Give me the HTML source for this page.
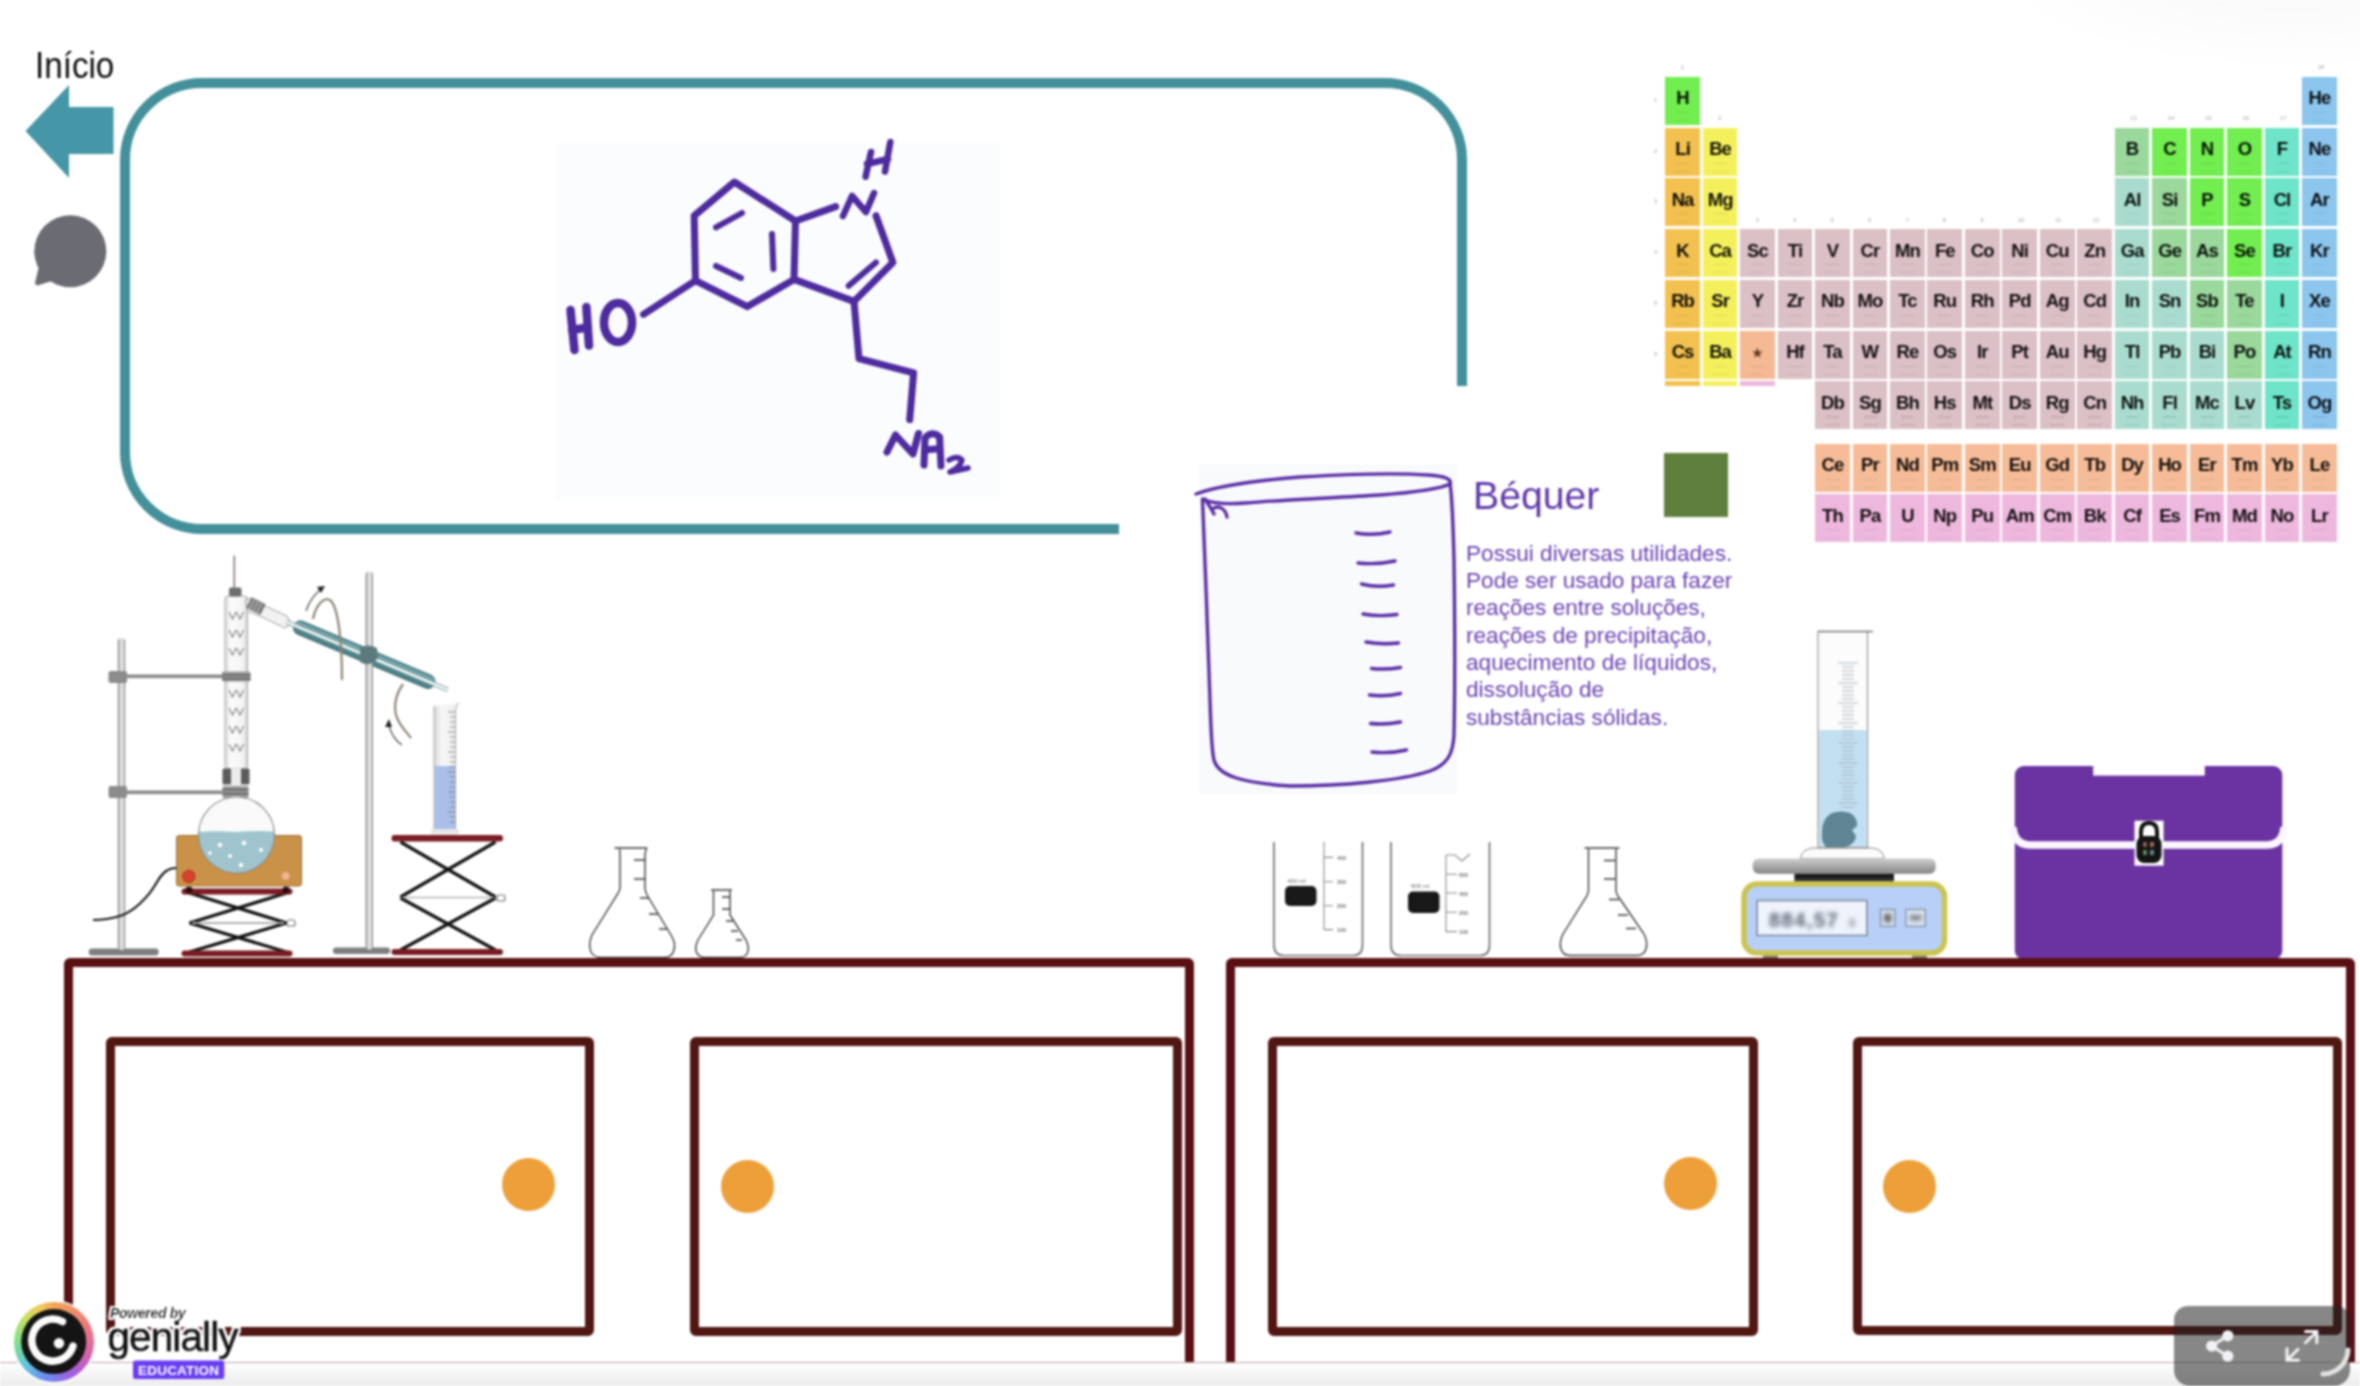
<!DOCTYPE html>
<html><head><meta charset="utf-8">
<style>
*{margin:0;padding:0;box-sizing:border-box}
html,body{width:2360px;height:1386px;overflow:hidden;background:#fff;font-family:"Liberation Sans",sans-serif}
.a{position:absolute}
#root{position:absolute;left:0;top:0;width:2360px;height:1386px;overflow:hidden;filter:blur(0.8px)}
#topshade{left:1980px;top:-120px;width:520px;height:190px;border-radius:50%;background:radial-gradient(ellipse at 60% 40%,rgba(0,0,0,0.035),rgba(0,0,0,0) 70%)}
#inicio{left:34.5px;top:44px;font-size:37.5px;line-height:42px;color:#0a0a0a;transform:scaleX(0.885);transform-origin:0 0}
#tealbox{left:120.2px;top:77.8px;width:1346.8px;height:456.7px;border:10px solid #43909b;border-radius:82px}
.cab{border:9.5px solid #5a0f12;border-radius:6px}
.door{border:9.3px solid #501612;border-radius:6px}
.knob{width:53px;height:53px;border-radius:50%;background:#eda039}
.pc{position:absolute;width:34.8px;height:48px}
.pc b{position:absolute;left:-4px;right:-4px;top:12.5px;text-align:center;font-size:18.5px;line-height:18px;font-weight:bold;color:rgba(0,0,0,0.92);letter-spacing:-0.9px}
.pc i{position:absolute;left:11px;width:13px;top:35px;height:1.2px;background:rgba(0,0,0,0.09)}
.pc u{position:absolute;left:10px;width:15px;top:43px;height:1.2px;background:rgba(0,0,0,0.07)}
.st{font-size:12px;color:#5a3a20;position:relative;top:-1px}
.pl{position:absolute;font-size:6px;line-height:6px;color:#a8a8a8}
#ptable{position:absolute;left:0;top:0}
#card{left:1119px;top:386px;width:689px;height:456px;background:#fff;border-top-right-radius:8px}
#btitle{left:1473px;top:474px;font-size:39.2px;line-height:44px;color:#5f37ab;white-space:nowrap}
#gsq{left:1664px;top:453px;width:63.5px;height:63.5px;background:#5f803c}
#btext{left:1466px;top:539.5px;font-size:22.6px;line-height:27.35px;color:#6a42b0;white-space:nowrap}
#ctrl{left:2174px;top:1306px;width:176px;height:80px;border-radius:14px 14px 16px 16px;background:rgba(34,34,34,0.54)}
#bottombar{left:0;top:1361.5px;width:2360px;height:25px;background:linear-gradient(#fefefe,#f8f8f8 35%,#ebebeb);border-top:1.2px solid #bfa5a5}
</style></head><body>
<div id="root">
<div class="a" id="topshade"></div>
<div class="a" id="inicio">Início</div>
<!-- teal frame -->
<div class="a" id="tealbox"></div>
<svg class="a" style="left:0;top:0" width="2360" height="1386" viewBox="0 0 2360 1386">
 <!-- arrow -->
 <path d="M25.5 131 L69 85 L69 107 L113.5 107 L113.5 154 L69 154 L69 178 Z" fill="#4596a6"/>
 <!-- chat bubble -->
 <circle cx="70.3" cy="251.3" r="36" fill="#6a6b73"/>
 <path d="M40 262 L35 283 Q35.5 286 39 285 L58 279 Z" fill="#6a6b73"/>
 <!-- molecule bg -->
 <rect x="556" y="143" width="444" height="357" fill="#fafcfd"/>
 <g fill="none" stroke="#4e2b9e" stroke-width="7" stroke-linecap="round" stroke-linejoin="round">
  <path d="M734.4 182 L694.2 215.7 L695.5 280.6 L747.4 306.6 L794 279.4 L795.5 221 Z"/>
  <path d="M795.5 221 L835.7 206.6"/>
  <path d="M876 215.7 L892.9 262.5 L854 301.4 L794 279.4"/>
  <path d="M876 262.5 L848.7 285.8" stroke-width="6"/>
  <path d="M742 213 L716 227.4" stroke-width="6"/>
  <path d="M772 234 L773.4 269" stroke-width="6"/>
  <path d="M716 266 L741 278" stroke-width="6"/>
  <path d="M854 301.4 L859 358.6 L913.6 372.9 L909.7 419.6"/>
  <path d="M695.5 280.6 L643.5 314.4"/>
  <!-- N ring -->
  <path d="M843 216 L852 196 L866 212 L874 193" stroke-width="6.5"/>
  <!-- top H -->
  <path d="M871 152 L865.6 176.8 M890.3 142 L885 171.6 M867 164 L888 159" stroke-width="6.5"/>
  <!-- HO -->
  <path d="M570.5 310 L574.5 350 M586.4 307 L589 345.6 M572 330 L588 327.4" stroke-width="8.5"/>
  <ellipse cx="618" cy="322.5" rx="14" ry="19.5" stroke-width="8.5"/>
  <!-- NH2 -->
  <path d="M887 452 L895.5 435 L913 454 L918.5 433.5" stroke-width="7"/>
  <path d="M924 465 L925 438 Q932 430 939.6 437 L941 466 M925 450 L940 448.5" stroke-width="7"/>
  <path d="M949 460 Q957 455 962 460 Q960 468 950 472 L968 468" stroke-width="5.5"/>
 </g>
</svg>


<!--PT--><div id="ptable"><div class="pl" style="left:1680.6px;top:64px">1</div><div class="pl" style="left:2317.4px;top:64px">18</div><div class="pl" style="left:1718.1px;top:115px">2</div><div class="pl" style="left:2130.1px;top:115px">13</div><div class="pl" style="left:2167.6px;top:115px">14</div><div class="pl" style="left:2205.0px;top:115px">15</div><div class="pl" style="left:2242.5px;top:115px">16</div><div class="pl" style="left:2280.0px;top:115px">17</div><div class="pl" style="left:1755.5px;top:217px">3</div><div class="pl" style="left:1793.0px;top:217px">4</div><div class="pl" style="left:1830.4px;top:217px">5</div><div class="pl" style="left:1867.9px;top:217px">6</div><div class="pl" style="left:1905.4px;top:217px">7</div><div class="pl" style="left:1942.8px;top:217px">8</div><div class="pl" style="left:1980.3px;top:217px">9</div><div class="pl" style="left:2017.7px;top:217px">10</div><div class="pl" style="left:2055.2px;top:217px">11</div><div class="pl" style="left:2092.7px;top:217px">12</div><div class="pl" style="left:1654px;top:96.8px">1</div><div class="pl" style="left:1654px;top:147.6px">2</div><div class="pl" style="left:1654px;top:198.3px">3</div><div class="pl" style="left:1654px;top:249.1px">4</div><div class="pl" style="left:1654px;top:299.9px">5</div><div class="pl" style="left:1654px;top:350.7px">6</div><div class="pc" style="left:1665.2px;top:76.8px;background:#72ee50"><b>H</b><i></i><u></u></div><div class="pc" style="left:2302.0px;top:76.8px;background:#8cc6ef"><b>He</b><i></i><u></u></div><div class="pc" style="left:1665.2px;top:127.6px;background:#f2c150"><b>Li</b><i></i><u></u></div><div class="pc" style="left:1702.7px;top:127.6px;background:#f4f05c"><b>Be</b><i></i><u></u></div><div class="pc" style="left:2114.7px;top:127.6px;background:#9ad89c"><b>B</b><i></i><u></u></div><div class="pc" style="left:2152.2px;top:127.6px;background:#72ee50"><b>C</b><i></i><u></u></div><div class="pc" style="left:2189.6px;top:127.6px;background:#72ee50"><b>N</b><i></i><u></u></div><div class="pc" style="left:2227.1px;top:127.6px;background:#72ee50"><b>O</b><i></i><u></u></div><div class="pc" style="left:2264.6px;top:127.6px;background:#6ee4c8"><b>F</b><i></i><u></u></div><div class="pc" style="left:2302.0px;top:127.6px;background:#8cc6ef"><b>Ne</b><i></i><u></u></div><div class="pc" style="left:1665.2px;top:178.3px;background:#f2c150"><b>Na</b><i></i><u></u></div><div class="pc" style="left:1702.7px;top:178.3px;background:#f4f05c"><b>Mg</b><i></i><u></u></div><div class="pc" style="left:2114.7px;top:178.3px;background:#a9dccf"><b>Al</b><i></i><u></u></div><div class="pc" style="left:2152.2px;top:178.3px;background:#9ad89c"><b>Si</b><i></i><u></u></div><div class="pc" style="left:2189.6px;top:178.3px;background:#72ee50"><b>P</b><i></i><u></u></div><div class="pc" style="left:2227.1px;top:178.3px;background:#72ee50"><b>S</b><i></i><u></u></div><div class="pc" style="left:2264.6px;top:178.3px;background:#6ee4c8"><b>Cl</b><i></i><u></u></div><div class="pc" style="left:2302.0px;top:178.3px;background:#8cc6ef"><b>Ar</b><i></i><u></u></div><div class="pc" style="left:1665.2px;top:229.1px;background:#f2c150"><b>K</b><i></i><u></u></div><div class="pc" style="left:1702.7px;top:229.1px;background:#f4f05c"><b>Ca</b><i></i><u></u></div><div class="pc" style="left:1740.1px;top:229.1px;background:#dbc0c5"><b>Sc</b><i></i><u></u></div><div class="pc" style="left:1777.6px;top:229.1px;background:#dbc0c5"><b>Ti</b><i></i><u></u></div><div class="pc" style="left:1815.0px;top:229.1px;background:#dbc0c5"><b>V</b><i></i><u></u></div><div class="pc" style="left:1852.5px;top:229.1px;background:#dbc0c5"><b>Cr</b><i></i><u></u></div><div class="pc" style="left:1890.0px;top:229.1px;background:#dbc0c5"><b>Mn</b><i></i><u></u></div><div class="pc" style="left:1927.4px;top:229.1px;background:#dbc0c5"><b>Fe</b><i></i><u></u></div><div class="pc" style="left:1964.9px;top:229.1px;background:#dbc0c5"><b>Co</b><i></i><u></u></div><div class="pc" style="left:2002.3px;top:229.1px;background:#dbc0c5"><b>Ni</b><i></i><u></u></div><div class="pc" style="left:2039.8px;top:229.1px;background:#dbc0c5"><b>Cu</b><i></i><u></u></div><div class="pc" style="left:2077.3px;top:229.1px;background:#dbc0c5"><b>Zn</b><i></i><u></u></div><div class="pc" style="left:2114.7px;top:229.1px;background:#a9dccf"><b>Ga</b><i></i><u></u></div><div class="pc" style="left:2152.2px;top:229.1px;background:#9ad89c"><b>Ge</b><i></i><u></u></div><div class="pc" style="left:2189.6px;top:229.1px;background:#9ad89c"><b>As</b><i></i><u></u></div><div class="pc" style="left:2227.1px;top:229.1px;background:#72ee50"><b>Se</b><i></i><u></u></div><div class="pc" style="left:2264.6px;top:229.1px;background:#6ee4c8"><b>Br</b><i></i><u></u></div><div class="pc" style="left:2302.0px;top:229.1px;background:#8cc6ef"><b>Kr</b><i></i><u></u></div><div class="pc" style="left:1665.2px;top:279.9px;background:#f2c150"><b>Rb</b><i></i><u></u></div><div class="pc" style="left:1702.7px;top:279.9px;background:#f4f05c"><b>Sr</b><i></i><u></u></div><div class="pc" style="left:1740.1px;top:279.9px;background:#dbc0c5"><b>Y</b><i></i><u></u></div><div class="pc" style="left:1777.6px;top:279.9px;background:#dbc0c5"><b>Zr</b><i></i><u></u></div><div class="pc" style="left:1815.0px;top:279.9px;background:#dbc0c5"><b>Nb</b><i></i><u></u></div><div class="pc" style="left:1852.5px;top:279.9px;background:#dbc0c5"><b>Mo</b><i></i><u></u></div><div class="pc" style="left:1890.0px;top:279.9px;background:#dbc0c5"><b>Tc</b><i></i><u></u></div><div class="pc" style="left:1927.4px;top:279.9px;background:#dbc0c5"><b>Ru</b><i></i><u></u></div><div class="pc" style="left:1964.9px;top:279.9px;background:#dbc0c5"><b>Rh</b><i></i><u></u></div><div class="pc" style="left:2002.3px;top:279.9px;background:#dbc0c5"><b>Pd</b><i></i><u></u></div><div class="pc" style="left:2039.8px;top:279.9px;background:#dbc0c5"><b>Ag</b><i></i><u></u></div><div class="pc" style="left:2077.3px;top:279.9px;background:#dbc0c5"><b>Cd</b><i></i><u></u></div><div class="pc" style="left:2114.7px;top:279.9px;background:#a9dccf"><b>In</b><i></i><u></u></div><div class="pc" style="left:2152.2px;top:279.9px;background:#a9dccf"><b>Sn</b><i></i><u></u></div><div class="pc" style="left:2189.6px;top:279.9px;background:#9ad89c"><b>Sb</b><i></i><u></u></div><div class="pc" style="left:2227.1px;top:279.9px;background:#9ad89c"><b>Te</b><i></i><u></u></div><div class="pc" style="left:2264.6px;top:279.9px;background:#6ee4c8"><b>I</b><i></i><u></u></div><div class="pc" style="left:2302.0px;top:279.9px;background:#8cc6ef"><b>Xe</b><i></i><u></u></div><div class="pc" style="left:1665.2px;top:330.7px;background:#f2c150"><b>Cs</b><i></i><u></u></div><div class="pc" style="left:1702.7px;top:330.7px;background:#f4f05c"><b>Ba</b><i></i><u></u></div><div class="pc" style="left:1740.1px;top:330.7px;background:#f5b993"><b><span class="st">&#9733;</span></b><i></i><u></u></div><div class="pc" style="left:1777.6px;top:330.7px;background:#dbc0c5"><b>Hf</b><i></i><u></u></div><div class="pc" style="left:1815.0px;top:330.7px;background:#dbc0c5"><b>Ta</b><i></i><u></u></div><div class="pc" style="left:1852.5px;top:330.7px;background:#dbc0c5"><b>W</b><i></i><u></u></div><div class="pc" style="left:1890.0px;top:330.7px;background:#dbc0c5"><b>Re</b><i></i><u></u></div><div class="pc" style="left:1927.4px;top:330.7px;background:#dbc0c5"><b>Os</b><i></i><u></u></div><div class="pc" style="left:1964.9px;top:330.7px;background:#dbc0c5"><b>Ir</b><i></i><u></u></div><div class="pc" style="left:2002.3px;top:330.7px;background:#dbc0c5"><b>Pt</b><i></i><u></u></div><div class="pc" style="left:2039.8px;top:330.7px;background:#dbc0c5"><b>Au</b><i></i><u></u></div><div class="pc" style="left:2077.3px;top:330.7px;background:#dbc0c5"><b>Hg</b><i></i><u></u></div><div class="pc" style="left:2114.7px;top:330.7px;background:#a9dccf"><b>Tl</b><i></i><u></u></div><div class="pc" style="left:2152.2px;top:330.7px;background:#a9dccf"><b>Pb</b><i></i><u></u></div><div class="pc" style="left:2189.6px;top:330.7px;background:#a9dccf"><b>Bi</b><i></i><u></u></div><div class="pc" style="left:2227.1px;top:330.7px;background:#9ad89c"><b>Po</b><i></i><u></u></div><div class="pc" style="left:2264.6px;top:330.7px;background:#6ee4c8"><b>At</b><i></i><u></u></div><div class="pc" style="left:2302.0px;top:330.7px;background:#8cc6ef"><b>Rn</b><i></i><u></u></div><div class="pc" style="left:1665.2px;top:381.4px;background:#f2c150"><b>Fr</b><i></i><u></u></div><div class="pc" style="left:1702.7px;top:381.4px;background:#f4f05c"><b>Ra</b><i></i><u></u></div><div class="pc" style="left:1740.1px;top:381.4px;background:#eeb8de"><b><span class="st">&#9733;</span></b><i></i><u></u></div><div class="pc" style="left:1815.0px;top:381.4px;background:#dbc0c5"><b>Db</b><i></i><u></u></div><div class="pc" style="left:1852.5px;top:381.4px;background:#dbc0c5"><b>Sg</b><i></i><u></u></div><div class="pc" style="left:1890.0px;top:381.4px;background:#dbc0c5"><b>Bh</b><i></i><u></u></div><div class="pc" style="left:1927.4px;top:381.4px;background:#dbc0c5"><b>Hs</b><i></i><u></u></div><div class="pc" style="left:1964.9px;top:381.4px;background:#dbc0c5"><b>Mt</b><i></i><u></u></div><div class="pc" style="left:2002.3px;top:381.4px;background:#dbc0c5"><b>Ds</b><i></i><u></u></div><div class="pc" style="left:2039.8px;top:381.4px;background:#dbc0c5"><b>Rg</b><i></i><u></u></div><div class="pc" style="left:2077.3px;top:381.4px;background:#dbc0c5"><b>Cn</b><i></i><u></u></div><div class="pc" style="left:2114.7px;top:381.4px;background:#a9dccf"><b>Nh</b><i></i><u></u></div><div class="pc" style="left:2152.2px;top:381.4px;background:#a9dccf"><b>Fl</b><i></i><u></u></div><div class="pc" style="left:2189.6px;top:381.4px;background:#a9dccf"><b>Mc</b><i></i><u></u></div><div class="pc" style="left:2227.1px;top:381.4px;background:#a9dccf"><b>Lv</b><i></i><u></u></div><div class="pc" style="left:2264.6px;top:381.4px;background:#6ee4c8"><b>Ts</b><i></i><u></u></div><div class="pc" style="left:2302.0px;top:381.4px;background:#8cc6ef"><b>Og</b><i></i><u></u></div><div class="pc" style="left:1815.0px;top:443.8px;background:#f6bc98"><b>Ce</b><i></i><u></u></div><div class="pc" style="left:1852.5px;top:443.8px;background:#f6bc98"><b>Pr</b><i></i><u></u></div><div class="pc" style="left:1890.0px;top:443.8px;background:#f6bc98"><b>Nd</b><i></i><u></u></div><div class="pc" style="left:1927.4px;top:443.8px;background:#f6bc98"><b>Pm</b><i></i><u></u></div><div class="pc" style="left:1964.9px;top:443.8px;background:#f6bc98"><b>Sm</b><i></i><u></u></div><div class="pc" style="left:2002.3px;top:443.8px;background:#f6bc98"><b>Eu</b><i></i><u></u></div><div class="pc" style="left:2039.8px;top:443.8px;background:#f6bc98"><b>Gd</b><i></i><u></u></div><div class="pc" style="left:2077.3px;top:443.8px;background:#f6bc98"><b>Tb</b><i></i><u></u></div><div class="pc" style="left:2114.7px;top:443.8px;background:#f6bc98"><b>Dy</b><i></i><u></u></div><div class="pc" style="left:2152.2px;top:443.8px;background:#f6bc98"><b>Ho</b><i></i><u></u></div><div class="pc" style="left:2189.6px;top:443.8px;background:#f6bc98"><b>Er</b><i></i><u></u></div><div class="pc" style="left:2227.1px;top:443.8px;background:#f6bc98"><b>Tm</b><i></i><u></u></div><div class="pc" style="left:2264.6px;top:443.8px;background:#f6bc98"><b>Yb</b><i></i><u></u></div><div class="pc" style="left:2302.0px;top:443.8px;background:#f6bc98"><b>Le</b><i></i><u></u></div><div class="pc" style="left:1815.0px;top:494.3px;background:#eeb8de"><b>Th</b><i></i><u></u></div><div class="pc" style="left:1852.5px;top:494.3px;background:#eeb8de"><b>Pa</b><i></i><u></u></div><div class="pc" style="left:1890.0px;top:494.3px;background:#eeb8de"><b>U</b><i></i><u></u></div><div class="pc" style="left:1927.4px;top:494.3px;background:#eeb8de"><b>Np</b><i></i><u></u></div><div class="pc" style="left:1964.9px;top:494.3px;background:#eeb8de"><b>Pu</b><i></i><u></u></div><div class="pc" style="left:2002.3px;top:494.3px;background:#eeb8de"><b>Am</b><i></i><u></u></div><div class="pc" style="left:2039.8px;top:494.3px;background:#eeb8de"><b>Cm</b><i></i><u></u></div><div class="pc" style="left:2077.3px;top:494.3px;background:#eeb8de"><b>Bk</b><i></i><u></u></div><div class="pc" style="left:2114.7px;top:494.3px;background:#eeb8de"><b>Cf</b><i></i><u></u></div><div class="pc" style="left:2152.2px;top:494.3px;background:#eeb8de"><b>Es</b><i></i><u></u></div><div class="pc" style="left:2189.6px;top:494.3px;background:#eeb8de"><b>Fm</b><i></i><u></u></div><div class="pc" style="left:2227.1px;top:494.3px;background:#eeb8de"><b>Md</b><i></i><u></u></div><div class="pc" style="left:2264.6px;top:494.3px;background:#eeb8de"><b>No</b><i></i><u></u></div><div class="pc" style="left:2302.0px;top:494.3px;background:#eeb8de"><b>Lr</b><i></i><u></u></div></div><!--/PT-->
<!-- card -->
<div class="a" id="card"></div>
<svg class="a" style="left:0;top:0" width="2360" height="1386" viewBox="0 0 2360 1386">
 <rect x="1199" y="464" width="258" height="330" fill="#f9fafc"/>
 <g fill="none" stroke="#5a2ea6" stroke-width="3.4" stroke-linecap="round" stroke-linejoin="round">
  <path d="M1196 494 C1215 487 1250 481 1300 477 C1350 474 1400 473 1428 475 C1445 476 1452 479 1450 484 C1440 489 1420 492 1380 495 C1330 498 1280 500 1245 503 C1225 504.5 1212 503 1205 500"/>
  <path d="M1205 499 C1208 504 1212 510 1214 514 M1214 508 C1220 505 1226 510 1227 517"/>
  <path d="M1202.5 499 C1205 560 1208 640 1210 700 C1211 735 1212 752 1214 760 C1218 775 1240 783 1291 786 C1340 786 1400 781 1430 771 C1449 764 1453 752 1454 735 C1455 690 1455 630 1454 560 C1453 520 1452 495 1450 484"/>
  <path d="M1356 533 Q1373 536 1390 532"/>
  <path d="M1358 563 Q1376 565 1395 561"/>
  <path d="M1361.5 584 Q1377 588 1393.5 585"/>
  <path d="M1363 614 Q1380 617 1397 614.5"/>
  <path d="M1366 642 Q1382 645 1398.5 643"/>
  <path d="M1371.5 668.5 Q1386 670 1400.5 667.5"/>
  <path d="M1369.5 695 Q1385 697 1400.5 693.5"/>
  <path d="M1370.5 723.5 Q1386 725 1400.5 722"/>
  <path d="M1372 752 Q1389 754 1406.5 750"/>
 </g>
</svg>
<div class="a" id="btitle">Béquer</div>
<div class="a" id="gsq"></div>
<div class="a" id="btext">Possui diversas utilidades.<br>Pode ser usado para fazer<br>reações entre soluções,<br>reações de precipitação,<br>aquecimento de líquidos,<br>dissolução de<br>substâncias sólidas.</div>

<!--LABL--><svg class="a" style="left:0;top:0" width="2360" height="1386" viewBox="0 0 2360 1386">
 <defs>
  <linearGradient id="rodg" x1="0" x2="1" y1="0" y2="0"><stop offset="0" stop-color="#7a7a7a"/><stop offset="0.3" stop-color="#d8d8d8"/><stop offset="0.7" stop-color="#e8e8e8"/><stop offset="1" stop-color="#7a7a7a"/></linearGradient>
  <linearGradient id="condg" x1="0" x2="0" y1="0" y2="1"><stop offset="0" stop-color="#4f8288"/><stop offset="0.3" stop-color="#7fb0b4"/><stop offset="0.55" stop-color="#5f9398"/><stop offset="1" stop-color="#44767c"/></linearGradient>
  <linearGradient id="colg" x1="0" x2="1" y1="0" y2="0"><stop offset="0" stop-color="#d9d9d9"/><stop offset="0.25" stop-color="#fbfbfb"/><stop offset="0.8" stop-color="#f4f4f4"/><stop offset="1" stop-color="#cfcfcf"/></linearGradient>
  <linearGradient id="cylg" x1="0" x2="1" y1="0" y2="0"><stop offset="0" stop-color="#d6d6d6"/><stop offset="0.3" stop-color="#f6f6f6"/><stop offset="1" stop-color="#eeeeee"/></linearGradient>
 </defs>
 <!-- left stand -->
 <rect x="88.7" y="948.5" width="70" height="7" rx="3.5" fill="#7e7e7e"/>
 <rect x="117.8" y="638" width="7.4" height="312" rx="3.5" fill="url(#rodg)"/>
 <!-- clamps -->
 <rect x="126" y="674.5" width="99" height="3.6" fill="#8a8a8a"/>
 <rect x="126" y="790.5" width="99" height="3.6" fill="#8a8a8a"/>
 <rect x="108.5" y="671" width="18.5" height="12" rx="2" fill="#8c8c8c"/>
 <rect x="108.5" y="786" width="18.5" height="12" rx="2" fill="#8c8c8c"/>
 <!-- thermometer -->
 <line x1="234.3" y1="555.5" x2="234.3" y2="592" stroke="#8a7272" stroke-width="1.6"/>
 <!-- column -->
 <rect x="225" y="596" width="22.5" height="173" rx="3" fill="url(#colg)" stroke="#a8a8a8" stroke-width="1"/>
 <rect x="229" y="587.5" width="12.5" height="9" rx="2" fill="#6e6e6e"/>
 <g fill="none" stroke="#8e8e8e" stroke-width="1.3">
  <path d="M229 612 l3.5 7 l3.5 -7 M236.5 612 l3.5 7 l3.5 -7"/>
  <path d="M229 630 l3.5 7 l3.5 -7 M236.5 630 l3.5 7 l3.5 -7"/>
  <path d="M229 648 l3.5 7 l3.5 -7 M236.5 648 l3.5 7 l3.5 -7"/>
  <path d="M229 690 l3.5 7 l3.5 -7 M236.5 690 l3.5 7 l3.5 -7"/>
  <path d="M229 708 l3.5 7 l3.5 -7 M236.5 708 l3.5 7 l3.5 -7"/>
  <path d="M229 726 l3.5 7 l3.5 -7 M236.5 726 l3.5 7 l3.5 -7"/>
  <path d="M229 744 l3.5 7 l3.5 -7 M236.5 744 l3.5 7 l3.5 -7"/>
 </g>
 <rect x="222" y="671.5" width="28.5" height="10" rx="1.5" fill="#9a9a9a"/>
 <rect x="222" y="674.5" width="28.5" height="1.5" fill="#5e5e5e"/>
 <rect x="222" y="678" width="28.5" height="1.5" fill="#5e5e5e"/>
 <!-- lower joint -->
 <rect x="222.5" y="768.5" width="9" height="16" rx="1.5" fill="#5c5c5c"/>
 <rect x="240.5" y="768.5" width="9" height="16" rx="1.5" fill="#5c5c5c"/>
 <rect x="231" y="768.5" width="10" height="18" fill="#ececec"/>
 <rect x="222.5" y="786" width="26" height="12" rx="1.5" fill="#9a9a9a"/>
 <rect x="222.5" y="789" width="26" height="1.5" fill="#5e5e5e"/>
 <rect x="222.5" y="793" width="26" height="1.5" fill="#5e5e5e"/>
 <!-- side arm + adapter -->
 <path d="M246 600 L252 598 L265 606 L287 616 L291 624 L285 628 L262 617 L247 611 Z" fill="#f2f2f2" stroke="#a0a0a0" stroke-width="1"/>
 <g transform="rotate(27 256 606)"><rect x="248" y="600" width="16" height="12" rx="1.5" fill="#7a7a7a"/><rect x="251" y="600" width="1.3" height="12" fill="#bbb"/><rect x="255" y="600" width="1.3" height="12" fill="#bbb"/><rect x="259" y="600" width="1.3" height="12" fill="#bbb"/></g>
 <!-- condenser -->
 <g transform="translate(296 626) rotate(22.8)">
  <rect x="-2" y="-7" width="152" height="14" rx="6.5" fill="url(#condg)" stroke="#406e74" stroke-width="0.8"/>
  <rect x="-10" y="-1.6" width="175" height="3.2" fill="#f4fafa"/>
  <line x1="-10" y1="-1.8" x2="165" y2="-1.8" stroke="#6a8f93" stroke-width="0.8"/>
  <line x1="-10" y1="1.8" x2="165" y2="1.8" stroke="#6a8f93" stroke-width="0.8"/>
 </g>
 <!-- hoses -->
 <path d="M313 619 C316 604 324 597 330 600 C338 606 342 640 342 680" fill="none" stroke="#8c8478" stroke-width="2.2"/>
 <path d="M403 684 C396 694 392 708 398 720 C402 728 408 734 411 738" fill="none" stroke="#8c8478" stroke-width="2.2"/>
 <!-- arrows -->
 <path d="M306 611 C309 602 314 595 320 590" fill="none" stroke="#555" stroke-width="1.3"/>
 <path d="M317 587 L325 586 L321 593 Z" fill="#222"/>
 <path d="M402 745 C396 741 391 733 389 726" fill="none" stroke="#555" stroke-width="1.3"/>
 <path d="M385 727 L389 719 L392 727 Z" fill="#222"/>
 <!-- right stand -->
 <rect x="333" y="947.5" width="57" height="6.5" rx="3" fill="#7e7e7e"/>
 <rect x="365.6" y="571.5" width="7.4" height="378" rx="3.5" fill="url(#rodg)"/>
 <path d="M360 648 Q368 643 377 648 L378 658 Q370 668 360 662 Z" fill="#5c7a7e"/>
 <!-- left jack -->
 <g stroke="#111" stroke-width="3.2" fill="none">
  <path d="M189.5 893 L286.5 923 M286.5 893 L189.5 923"/>
  <path d="M189.5 923 L286.5 952 M286.5 923 L189.5 952"/>
 </g>
 <line x1="192" y1="923" x2="284" y2="923" stroke="#b0b0b0" stroke-width="2"/>
 <rect x="287" y="920" width="8" height="6" rx="2" fill="none" stroke="#777" stroke-width="1.2"/>
 <rect x="181.5" y="888.5" width="111" height="6" rx="3" fill="#7a1c22"/>
 <circle cx="189" cy="890" r="3.6" fill="#2a0c10"/><circle cx="286" cy="890" r="3.6" fill="#2a0c10"/>
 <rect x="181.5" y="950.5" width="111" height="6" rx="3" fill="#7a1c22"/>
 <!-- mantle -->
 <rect x="176.5" y="835.5" width="125" height="50.5" rx="2.5" fill="#c99248" stroke="#9b6a30" stroke-width="1"/>
 <circle cx="188.8" cy="876.5" r="6.2" fill="#d8422a" stroke="#a8321e" stroke-width="1"/>
 <circle cx="285.6" cy="876" r="4" fill="#f2b294"/>
 <!-- flask -->
 <clipPath id="flc"><circle cx="236.5" cy="835" r="38"/></clipPath>
 <rect x="231" y="796" width="10" height="8" fill="#f5f5f5" stroke="#999" stroke-width="0.8"/>
 <circle cx="236.5" cy="835" r="38" fill="#fafafa"/>
 <g clip-path="url(#flc)">
  <path d="M190 833 Q210 830 236 832 Q260 830 280 832 L280 880 L190 880 Z" fill="#9fc4cd"/>
  <g fill="#fff"><circle cx="220" cy="845" r="2.2"/><circle cx="244" cy="843" r="2.2"/><circle cx="261" cy="850" r="2"/><circle cx="210" cy="853" r="1.8"/><circle cx="230" cy="856" r="2"/><circle cx="241" cy="865" r="2.2"/></g>
 </g>
 <circle cx="236.5" cy="835" r="38" fill="none" stroke="#8c8c8c" stroke-width="1.2"/>
 <!-- cable -->
 <path d="M176.5 868 C168 868 163 872 157 882 C148 898 133 912 120 916 C110 919 100 920 93 920" fill="none" stroke="#1a1a1a" stroke-width="2.2"/>
 <!-- right jack -->
 <g stroke="#111" stroke-width="3.2" fill="none">
  <path d="M400.5 842 L495.5 897 M495.5 842 L400.5 897"/>
  <path d="M400.5 898 L495.5 950 M495.5 898 L400.5 950"/>
 </g>
 <line x1="402" y1="897.5" x2="494" y2="897.5" stroke="#b5b5b5" stroke-width="1.6"/>
 <rect x="497" y="895" width="8" height="6" rx="2" fill="none" stroke="#777" stroke-width="1.2"/>
 <rect x="391.5" y="835" width="111.5" height="6.5" rx="3" fill="#7a1c22"/>
 <rect x="391.5" y="949" width="111.5" height="6" rx="3" fill="#7a1c22"/>
 <!-- graduated cylinder -->
 <path d="M434 706 L434 830 L455.5 830 L455.5 710 Q456 705 459 703" fill="url(#cylg)" stroke="#a8a8a8" stroke-width="1"/>
 <rect x="434.5" y="766" width="20.5" height="63" fill="#a9bfe7"/>
 <g stroke="#777" stroke-width="0.8">
  <path d="M448 712 h7 M450 717 h5 M450 722 h5 M450 727 h5 M448 732 h7 M450 737 h5 M450 742 h5 M450 747 h5 M448 752 h7 M450 757 h5 M450 762 h5 M450 767 h5 M448 772 h7 M450 777 h5 M450 782 h5 M450 787 h5 M448 792 h7 M450 797 h5 M450 802 h5 M450 807 h5 M448 812 h7 M450 817 h5 M450 822 h5"/>
 </g>
 <rect x="431" y="829" width="28" height="5" fill="#e6e6e6"/>
 <!-- erlenmeyer flasks -->
 <g fill="#fff" stroke="#3c3c3c" stroke-width="1.4">
  <path d="M614.5 848 L647.5 848 M619.5 849 Q620 852 620 855 L620 888 Q620 891 617 895 L592 935 Q588 944 591 952 Q594 957 600 957.5 L665 957.5 Q672 957 674 950 Q676 943 671 935 L647 895 Q645 891 645 888 L645 855 Q645 852 646.5 849"/>
  <path d="M711 890 L732 890 M713.5 891 L713.5 915 L698 940 Q695 946 696 951 Q698 957 704 957.5 L740 957.5 Q747 957 748 951 Q749 946 746 940 L730 915 L730 891"/>
 </g>
 <g stroke="#3c3c3c" stroke-width="1.4" fill="none">
  <path d="M634 860 h11 M634 879 h11 M640 898 h9 M649 914 h9 M659 929 h9"/>
  <path d="M722 897 h8 M722 909 h8 M726 921 h7 M731 931 h7 M736 940 h6"/>
 </g>
</svg>
<!--/LABL--><!--LABR--><svg class="a" style="left:0;top:0" width="2360" height="1386" viewBox="0 0 2360 1386">
 <defs>
  <linearGradient id="platg" x1="0" x2="0" y1="0" y2="1"><stop offset="0" stop-color="#cfcfcf"/><stop offset="0.5" stop-color="#a9a9a9"/><stop offset="1" stop-color="#858585"/></linearGradient>
  <linearGradient id="blkg" x1="0" x2="0" y1="0" y2="1"><stop offset="0" stop-color="#0e0e0e"/><stop offset="1" stop-color="#3a3a3a"/></linearGradient>
  <filter id="bl1" x="-20%" y="-50%" width="140%" height="200%"><feGaussianBlur stdDeviation="2.2"/></filter>
 </defs>
 <!-- beakers (cut at top by card) -->
 <g fill="#fff" stroke="#727272" stroke-width="1.7">
  <path d="M1274 842 L1274 945 Q1274 955.5 1284 955.5 L1353 955.5 Q1362.5 955.5 1362.5 945 L1362.5 842"/>
  <path d="M1391 842 L1391 945 Q1391 955.5 1401 955.5 L1480 955.5 Q1489.5 955.5 1489.5 945 L1489.5 842"/>
 </g>
 <rect x="1285" y="886" width="31.5" height="20" rx="5" fill="#181818"/>
 <rect x="1408" y="891.5" width="31.5" height="21.5" rx="5" fill="#181818"/>
 <g fill="#6a6a6a" font-size="6" font-family="Liberation Sans">
  <text x="1287.5" y="883">400 ml</text>
  <text x="1411" y="887.5">600 ml</text>
 </g>
 <g stroke="#8a8a8a" stroke-width="1.1" fill="none">
  <path d="M1324 842 L1324 930 M1324 857.4 h9 M1324 881.8 h9 M1324 905.7 h9 M1324 929.6 h9"/>
  <path d="M1446 855 L1446 932 M1446 855 h9 L1462 861 L1470 854 M1446 874.2 h11 M1446 893 h11 M1446 912.3 h11 M1446 931.6 h11"/>
 </g>
 <g fill="#777" font-size="5.5" font-family="Liberation Sans" font-weight="bold">
  <text x="1337" y="859.5">400</text><text x="1337" y="884">300</text><text x="1337" y="908">200</text><text x="1337" y="932">100</text>
  <text x="1459" y="876.5">600</text><text x="1459" y="895.5">400</text><text x="1459" y="914.5">200</text><text x="1459" y="934">100</text>
 </g>
 <!-- erlenmeyer right -->
 <g fill="#fff" stroke="#3c3c3c" stroke-width="1.4">
  <path d="M1584.5 848 L1619.5 848 M1588.5 849 L1588.5 890 Q1588.5 894 1585 899 L1563 934 Q1559 942 1561 949 Q1563 955.5 1570 955.5 L1637 955.5 Q1644 955.5 1646 949 Q1648 942 1644 934 L1620 899 Q1616 894 1616 890 L1616 849"/>
 </g>
 <g stroke="#3c3c3c" stroke-width="1.4" fill="none">
  <path d="M1604 860.5 h11 M1604 879 h11 M1609 899.5 h10 M1618 915 h10 M1626 928.5 h10"/>
 </g>
 <!-- balance -->
 <path d="M1800.7 858.6 Q1801 850 1812 848 L1873 848 Q1884 850 1884 858.6 Z" fill="#fbfbfb" stroke="#8a8a8a" stroke-width="1"/>
 <rect x="1818" y="631.5" width="49.5" height="216" fill="#fcfcfc" stroke="#8e8e8e" stroke-width="1.1"/>
 <line x1="1818" y1="631.5" x2="1873" y2="631.5" stroke="#777" stroke-width="1.4"/>
 <rect x="1819" y="730" width="47.5" height="117" fill="#c2e0f2"/>
 <g stroke="#a8b4bc" stroke-width="1.1">
  <path d="M1838 663 h20 M1842 667 h12 M1842 671 h12 M1842 675 h12 M1842 679 h12 M1838 683 h20 M1842 687 h12 M1842 691 h12 M1842 695 h12 M1842 699 h12 M1838 703 h20 M1842 707 h12 M1842 711 h12 M1842 715 h12 M1842 719 h12 M1838 723 h20 M1842 727 h12 M1842 731 h12 M1842 735 h12 M1842 739 h12 M1838 743 h20 M1842 747 h12 M1842 751 h12 M1842 755 h12 M1842 759 h12 M1838 763 h20 M1842 767 h12 M1842 771 h12 M1842 775 h12 M1842 779 h12 M1838 783 h20 M1842 787 h12 M1842 791 h12 M1842 795 h12 M1842 799 h12 M1838 803 h20 M1842 807 h12"/>
 </g>
 <path d="M1822 832 Q1822 818 1832 813 Q1842 810 1850 813 Q1858 818 1857 826 L1852 830 L1856 836 Q1855 845 1845 847 L1826 847 Q1821 842 1822 832 Z" fill="#5f8494"/>
 <rect x="1752.7" y="858.6" width="183" height="15.2" rx="6" fill="url(#platg)"/>
 <rect x="1794.4" y="873.8" width="99.6" height="8" fill="url(#blkg)"/>
 <rect x="1763" y="953" width="15" height="9" rx="2" fill="#7a8470"/>
 <rect x="1912" y="953" width="15" height="9" rx="2" fill="#7a8470"/>
 <rect x="1744" y="884" width="200.5" height="69" rx="13" fill="#b8d0f7" stroke="#cbc452" stroke-width="5.5"/>
 <rect x="1757" y="900.5" width="110" height="35" fill="#eef3fc" stroke="#8c9bb2" stroke-width="2"/>
 <g filter="url(#bl1)"><text x="1769" y="927" font-size="20" font-weight="bold" fill="#596070" font-family="Liberation Sans" letter-spacing="1.5">884,57</text><text x="1849" y="925" font-size="11" fill="#555" font-family="Liberation Sans">g</text></g>
 <rect x="1880.5" y="909.4" width="14.5" height="17" fill="#d8e2ee" stroke="#8c9bb2" stroke-width="1.5"/>
 <rect x="1905.8" y="909.4" width="19.5" height="17" fill="#d8e2ee" stroke="#8c9bb2" stroke-width="1.5"/>
 <g filter="url(#bl1)"><rect x="1884.5" y="914" width="6.5" height="8" fill="#555"/><rect x="1910" y="916" width="11" height="3.5" fill="#555"/></g>
 <!-- briefcase -->
 <rect x="2014.8" y="766" width="267.5" height="193.5" rx="9" fill="#6a33a1"/>
 <rect x="2093.2" y="764" width="111.6" height="11.6" fill="#fff"/>
 <path d="M2013 827 Q2014 845 2031 845 L2266 845 Q2283 845 2284 827" fill="none" stroke="#fbf6ff" stroke-width="7.5"/>
 <rect x="2134.5" y="820.7" width="29.1" height="45" fill="#fff"/>
 <path d="M2141 838 L2141 832 Q2141 823 2149 823 Q2157 823 2157 832 L2157 838" fill="none" stroke="#111" stroke-width="4"/>
 <rect x="2136.5" y="836" width="25" height="27" rx="8" fill="#141414"/>
 <g opacity="0.8"><rect x="2143" y="842" width="4" height="5" fill="#a76a6a"/><rect x="2150" y="842" width="4" height="5" fill="#b08060"/><rect x="2143" y="850" width="4" height="5" fill="#6aa070"/><rect x="2150" y="850" width="4" height="5" fill="#7a9ab0"/></g>
</svg>
<!--/LABR-->
<!-- cabinets -->
<div class="a cab" style="left:64px;top:958px;width:1130px;height:440px"></div>
<div class="a cab" style="left:1226px;top:958px;width:1129px;height:440px"></div>
<div class="a door" style="left:106px;top:1037px;width:488px;height:299px"></div>
<div class="a door" style="left:690px;top:1037px;width:492px;height:299px"></div>
<div class="a door" style="left:1268px;top:1037px;width:490px;height:299px"></div>
<div class="a door" style="left:1853px;top:1037px;width:489px;height:298px"></div>
<div class="a knob" style="left:502px;top:1157.5px"></div>
<div class="a knob" style="left:720.5px;top:1159.5px"></div>
<div class="a knob" style="left:1663.5px;top:1156.5px"></div>
<div class="a knob" style="left:1882.5px;top:1159.5px"></div>

<div class="a" id="bottombar"></div>
<!-- genially logo -->
<div class="a" style="left:11.7px;top:1299.6px;width:84px;height:84px;border-radius:50%;background:rgba(255,255,255,0.9)"></div>
<div class="a" style="left:14px;top:1302px;width:79.5px;height:79.5px;border-radius:50%;background:conic-gradient(from 0deg,#f2a65a,#ee7a7a 60deg,#d863a8 110deg,#a25ee0 150deg,#6a8cf0 195deg,#62c6e0 230deg,#7ee08a 270deg,#c8e060 310deg,#f2c85a 340deg,#f2a65a)"></div>
<svg class="a" style="left:0;top:1290px" width="280" height="96" viewBox="0 1290 280 96">
 <defs>
  <filter id="wsh" x="-20%" y="-20%" width="140%" height="140%"><feMorphology in="SourceAlpha" operator="dilate" radius="2.2" result="d"/><feFlood flood-color="#fff"/><feComposite in2="d" operator="in" result="w"/><feMerge><feMergeNode in="w"/><feMergeNode in="SourceGraphic"/></feMerge></filter>
 </defs>
 <circle cx="53.7" cy="1341.6" r="32.5" fill="#141414"/>
 <path d="M62.5 1321.5 A21 21 0 1 0 73 1346" fill="none" stroke="#fbfbfb" stroke-width="7.5" stroke-linecap="round"/>
 <circle cx="59" cy="1343.2" r="5.2" fill="#fbfbfb"/>
 <g filter="url(#wsh)" font-family="Liberation Sans">
  <text x="110" y="1317.5" font-size="14" font-weight="bold" font-style="italic" fill="#111" letter-spacing="-0.3">Powered by</text>
  <text x="107.5" y="1351" font-size="40.5" fill="#111" stroke="#111" stroke-width="0.9" letter-spacing="-0.9">genially</text>
 </g>
 <rect x="133" y="1360.6" width="91.3" height="18.5" rx="2.5" fill="#6a3cf2"/>
 <text x="178.6" y="1375" font-size="13.5" font-weight="bold" fill="#fff" text-anchor="middle" font-family="Liberation Sans" letter-spacing="0.2">EDUCATION</text>
</svg>
<!-- controls -->
<div class="a" id="ctrl"></div>
<svg class="a" style="left:2160px;top:1290px" width="200" height="96" viewBox="2160 1290 200 96">
 <g fill="#f2f2f6" stroke="#f2f2f6">
  <circle cx="2227.8" cy="1335.8" r="5.6" stroke="none"/>
  <circle cx="2211.7" cy="1346" r="5.6" stroke="none"/>
  <circle cx="2227.8" cy="1356.2" r="5.6" stroke="none"/>
  <path d="M2227.8 1335.8 L2211.7 1346 L2227.8 1356.2" fill="none" stroke-width="3"/>
 </g>
 <g fill="none" stroke="#f2f2f6" stroke-width="3" stroke-linecap="round" stroke-linejoin="miter">
  <path d="M2305.5 1331.5 L2316.8 1331.5 L2316.8 1342.8 M2316.3 1332 L2305.5 1342.8"/>
  <path d="M2298.5 1360.2 L2287 1360.2 L2287 1348.8 M2287.5 1359.7 L2298 1349.3"/>
 </g>
 <path d="M2348 1350 A25 25 0 0 1 2323 1374" fill="none" stroke="#e2e2e2" stroke-width="5" stroke-linecap="round"/>
</svg>

</div>
</body></html>
